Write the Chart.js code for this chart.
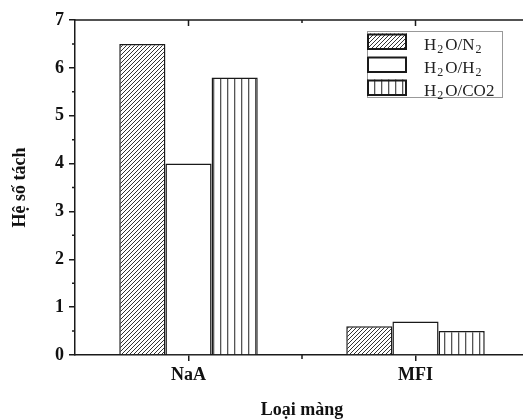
<!DOCTYPE html>
<html>
<head>
<meta charset="utf-8">
<script src="https://cdn.jsdelivr.net/npm/chart.js@4.4.1/dist/chart.umd.min.js"></script>
<style>
  html, body { margin: 0; padding: 0; background: #fff; overflow: hidden; }
  #wrap { width: 523px; height: 419px; overflow: hidden; }
  canvas { display: block; }
</style>
</head>
<body>
<div id="wrap"><canvas id="chart" width="540" height="419"></canvas></div>
<script>
// Data
const categories = ['NaA', 'MFI'];
const seriesLabels = ['H₂O/N₂', 'H₂O/H₂', 'H₂O/CO2'];
const h2oN2 = [6.5, 0.6];
const h2oH2 = [4.0, 0.7];
const h2oCO2 = [5.8, 0.5];
const yMin = 0;
const yMax = 7;
const yStep = 1;

const canvas = document.getElementById('chart');
const ctx = canvas.getContext('2d');
const FONT = '"Liberation Serif", "Times New Roman", serif';
const INK = '#1a1a1a';

// hatch fills
function makePattern(kind) {
  const c = document.createElement('canvas');
  const p = c.getContext('2d');
  if (kind === 'diag') {
    c.width = 4; c.height = 4;
    p.fillStyle = '#fff'; p.fillRect(0, 0, 4, 4);
    p.strokeStyle = '#333'; p.lineWidth = 1;
    p.beginPath();
    p.moveTo(-1, 5); p.lineTo(5, -1);
    p.moveTo(-1, 1); p.lineTo(1, -1);
    p.moveTo(3, 5); p.lineTo(5, 3);
    p.stroke();
  } else {
    c.width = 7; c.height = 7;
    p.fillStyle = '#fff'; p.fillRect(0, 0, 7, 7);
    p.fillStyle = '#555'; p.fillRect(3, 0, 1.3, 7);
  }
  return ctx.createPattern(c, 'repeat');
}

const fills = [makePattern('diag'), '#ffffff', makePattern('vert')];
const seriesData = [h2oN2, h2oH2, h2oCO2];

// axes frame: top/right lines, minor ticks, mirrored ticks
const framePlugin = {
  id: 'frame',
  afterDraw(chart) {
    const { ctx, chartArea: a, scales: { x, y } } = chart;
    ctx.save();
    ctx.strokeStyle = INK;
    ctx.lineWidth = 1.5;
    ctx.beginPath();
    ctx.moveTo(a.left, a.top); ctx.lineTo(a.right, a.top); ctx.lineTo(a.right, a.bottom);
    for (let v = yMin; v <= yMax; v += yStep / 2) {
      const py = y.getPixelForValue(v);
      const major = v % yStep === 0;
      if (!major) { ctx.moveTo(a.left, py); ctx.lineTo(a.left - 3, py); }
      ctx.moveTo(a.right, py); ctx.lineTo(a.right - (major ? 6 : 3), py);
    }
    categories.forEach((c, i) => {
      const px = x.getPixelForValue(i);
      ctx.moveTo(px, a.top); ctx.lineTo(px, a.top + 6);
      if (i < categories.length - 1) {
        const mx = x.getPixelForValue(i + 0.5);
        ctx.moveTo(mx, a.top); ctx.lineTo(mx, a.top + 3);
        ctx.moveTo(mx, a.bottom); ctx.lineTo(mx, a.bottom + 4);
      }
    });
    ctx.stroke();
    ctx.restore();
  }
};

// boxed legend inside the plot, with subscript digits
const subs = { '₂': '2' };
function drawRich(ctx, text, x, y) {
  for (const ch of text) {
    if (subs[ch]) {
      ctx.font = '12px ' + FONT;
      ctx.fillText(subs[ch], x + 1, y + 3);
      x += ctx.measureText(subs[ch]).width + 3;
    } else {
      ctx.font = '17px ' + FONT;
      ctx.fillText(ch, x, y);
      x += ctx.measureText(ch).width;
    }
  }
}

const legendPlugin = {
  id: 'boxLegend',
  afterDraw(chart) {
    const { ctx, chartArea: a } = chart;
    const bx = a.left + 292, by = a.top + 11, bw = 135, bh = 66;
    ctx.save();
    ctx.fillStyle = '#fff';
    ctx.fillRect(bx, by, bw, bh);
    ctx.strokeStyle = '#999';
    ctx.lineWidth = 1;
    ctx.strokeRect(bx + 0.5, by + 0.5, bw, bh);
    chart.data.datasets.forEach((ds, i) => {
      const sy = by + 2.5 + i * 23;
      ctx.fillStyle = ds.backgroundColor;
      ctx.fillRect(bx, sy, 40, 16.5);
      ctx.strokeStyle = INK;
      ctx.lineWidth = 2;
      ctx.strokeRect(bx + 1, sy + 1, 38, 14.5);
      ctx.fillStyle = '#222';
      ctx.textAlign = 'left';
      ctx.textBaseline = 'alphabetic';
      drawRich(ctx, ds.label, bx + 57, sy + 16);
    });
    ctx.restore();
  }
};

const axisFont = { family: FONT, size: 18, weight: 'bold' };

new Chart(ctx, {
  type: 'bar',
  data: {
    labels: categories,
    datasets: seriesLabels.map((label, i) => ({
      label: label,
      data: seriesData[i],
      backgroundColor: fills[i],
      borderColor: INK,
      borderWidth: 1.5,
      borderSkipped: 'bottom',
      categoryPercentage: 0.61,
      barPercentage: 1
    }))
  },
  options: {
    responsive: false,
    animation: false,
    layout: { padding: { left: 0, top: 20, right: 11, bottom: 0 } },
    plugins: { legend: { display: false }, tooltip: { enabled: false } },
    scales: {
      x: {
        offset: true,
        grid: { offset: false, drawOnChartArea: false, drawTicks: true, tickLength: 6, color: INK, lineWidth: 1.5 },
        border: { display: true, color: INK, width: 1.5 },
        ticks: { color: '#111', padding: 4, font: axisFont },
        title: { display: true, text: 'Loại màng', color: '#111', font: axisFont, padding: { top: 0, bottom: -2 } },
        afterFit: s => { s.height = 64; }
      },
      y: {
        min: yMin,
        max: yMax,
        grid: { drawOnChartArea: false, drawTicks: true, tickLength: 6, color: INK, lineWidth: 1.5 },
        border: { display: true, color: INK, width: 1.5 },
        ticks: { stepSize: yStep, color: '#111', padding: 5, font: axisFont },
        title: { display: true, text: 'Hệ số tách', color: '#111', font: axisFont, padding: { top: 10, bottom: 0 } },
        afterFit: s => { s.width = 75; }
      }
    }
  },
  plugins: [framePlugin, legendPlugin]
});
</script>
</body>
</html>
